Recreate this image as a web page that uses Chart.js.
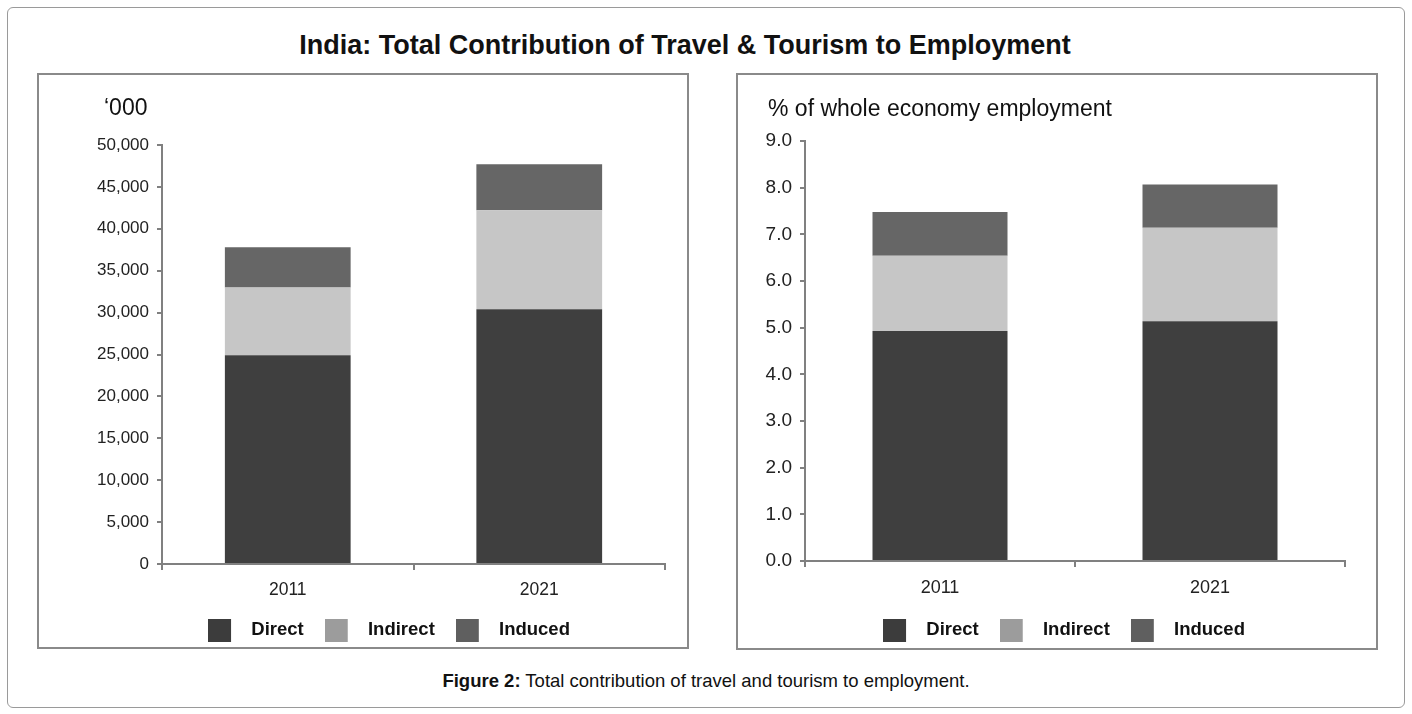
<!DOCTYPE html>
<html>
<head>
  <meta charset="UTF-8">
  <title>India: Total Contribution of Travel & Tourism to Employment</title>
  <script src="https://cdn.jsdelivr.net/npm/chart.js@4"></script>
  <style>
    body { margin: 0; background: #fff; font-family: "Liberation Sans", Arial, sans-serif; }
    #page { position: relative; width: 1412px; height: 714px; overflow: hidden; }
    .frame { position: absolute; left: 7px; top: 7px; width: 1398px; height: 701px; border: 1px solid #9a9a9a; border-radius: 6px; box-sizing: border-box; }
    .panel { position: absolute; border: 2px solid #8a8a8a; box-sizing: border-box; }
    .panel .box { position: absolute; left: 0; top: 0; right: 0; bottom: 0; }
    .title { position: absolute; left: 0; width: 1370px; top: 30px; text-align: center; font-weight: bold; font-size: 27px; color: #111; }
    .unit { position: absolute; font-size: 23px; color: #111; line-height: 1; }
    .caption { position: absolute; left: 0; width: 1412px; top: 670px; text-align: center; font-size: 18.5px; color: #111; }
  </style>
</head>
<body>
  <div id="page">
    <div class="frame"></div>
    <div class="title">India: Total Contribution of Travel &amp; Tourism to Employment</div>

    <div class="panel" style="left:37px; top:73px; width:652px; height:576px;">
      <div class="box"><canvas id="absChart"></canvas></div>
    </div>
    <div class="panel" style="left:736px; top:73px; width:642px; height:577px;">
      <div class="box"><canvas id="pctChart"></canvas></div>
    </div>

    <div class="unit" style="left:104px; top:96px;">‘000</div>
    <div class="unit" style="left:768px; top:97px;">% of whole economy employment</div>

    <div class="caption"><b>Figure 2:</b> Total contribution of travel and tourism to employment.</div>
  </div>

  <script>
    // data
    const years = ['2011', '2021'];
    const seriesNames = ['Direct', 'Indirect', 'Induced'];

    // thousands of jobs
    const directJobs = [24900, 30400];
    const indirectJobs = [8100, 11800];
    const inducedJobs = [4800, 5500];

    // % of whole economy employment
    const directPct = [4.93, 5.14];
    const indirectPct = [1.61, 2.00];
    const inducedPct = [0.94, 0.93];

    const barColors = ['#3f3f3f', '#c6c6c6', '#666666'];
    const legendColors = ['#3c3c3c', '#9c9c9c', '#5f5f5f'];
    const axisColor = '#808080';

    // legend swatch with some empty space after it, so the label sits further away
    const SW = 23, SW_GAP = 11;
    function swatch(color) {
      const c = document.createElement('canvas');
      c.width = SW + SW_GAP;
      c.height = SW;
      const ctx = c.getContext('2d');
      ctx.fillStyle = color;
      ctx.fillRect(0, 0, SW, SW);
      return c;
    }
    const swatches = legendColors.map(swatch);

    function makeDatasets(values) {
      return values.map((v, i) => ({
        label: seriesNames[i],
        data: v,
        backgroundColor: barColors[i],
        borderWidth: 0,
        barPercentage: 0.5,
        categoryPercentage: 1.0
      }));
    }

    // fixes the sizes of the boxes so the plot area lands where it is in the figure
    function layoutPlugin(o) {
      return {
        id: 'fixLayout',
        beforeInit(chart) {
          const fit = chart.legend.fit;
          chart.legend.fit = function () { fit.call(this); this.height = o.legendHeight; };
        },
        afterLayout(chart) {
          chart.legend.left = o.legendCenter - 300;
          chart.legend.right = o.legendCenter + 300;
        }
      };
    }

    function makeChart(id, values, o) {
      new Chart(document.getElementById(id), {
        type: 'bar',
        data: { labels: years, datasets: makeDatasets(values) },
        plugins: [layoutPlugin(o)],
        options: {
          responsive: true,
          maintainAspectRatio: false,
          animation: false,
          layout: { padding: { left: 0, top: o.top, right: o.right, bottom: 0 } },
          plugins: {
            tooltip: { enabled: false },
            legend: {
              position: 'bottom',
              labels: {
                usePointStyle: true,
                pointStyleWidth: SW + SW_GAP,
                padding: 21,
                color: '#111',
                font: { family: 'Liberation Sans, Arial', size: 18.5, weight: 'bold' },
                generateLabels(chart) {
                  const items = Chart.defaults.plugins.legend.labels.generateLabels(chart);
                  items.forEach((it, i) => {
                    it.pointStyle = swatches[i];
                    it.fillStyle = legendColors[i];
                    it.lineWidth = 0;
                  });
                  return items;
                }
              }
            }
          },
          scales: {
            x: {
              stacked: true,
              afterFit(s) { s.height = o.xHeight; },
              grid: { drawOnChartArea: false, tickLength: 6, color: axisColor, lineWidth: 2 },
              border: { color: axisColor, width: 2 },
              ticks: { color: '#222', padding: 10, font: { family: 'Liberation Sans, Arial', size: o.xFont } }
            },
            y: {
              stacked: true,
              min: 0,
              max: o.max,
              afterFit(s) { s.width = o.yWidth; },
              grid: { drawOnChartArea: false, tickLength: 5, color: axisColor, lineWidth: 2 },
              border: { color: axisColor, width: 2 },
              ticks: {
                stepSize: o.step,
                color: '#222',
                padding: 8,
                font: { family: 'Liberation Sans, Arial', size: o.yFont },
                callback: o.fmt
              }
            }
          }
        }
      });
    }

    makeChart('absChart', [directJobs, indirectJobs, inducedJobs], {
      top: 70, right: 22, yWidth: 123, xHeight: 36, legendHeight: 47, legendCenter: 350,
      max: 50000, step: 5000, xFont: 17.5, yFont: 17,
      fmt: v => v.toLocaleString('en-US')
    });

    makeChart('pctChart', [directPct, indirectPct, inducedPct], {
      top: 66, right: 31, yWidth: 67, xHeight: 39, legendHeight: 48, legendCenter: 326,
      max: 9, step: 1, xFont: 18, yFont: 19,
      fmt: v => v.toFixed(1)
    });
  </script>
</body>
</html>
